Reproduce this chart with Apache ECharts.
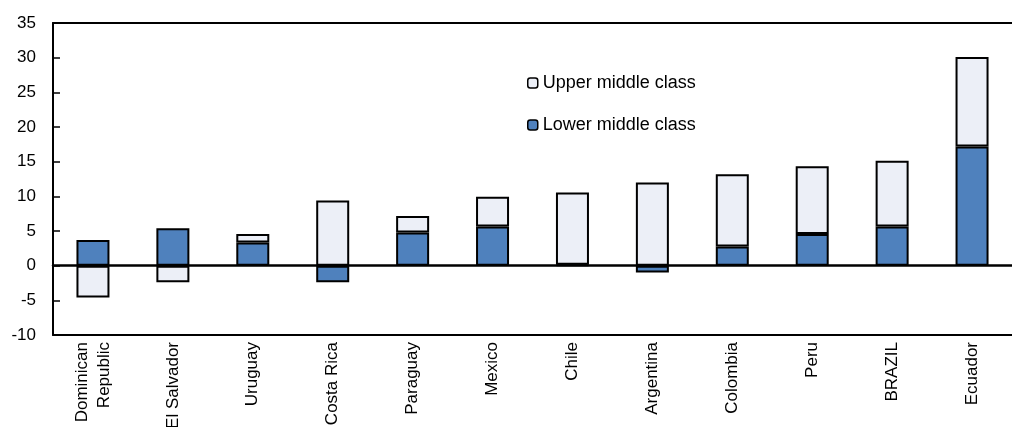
<!DOCTYPE html>
<html>
<head>
<meta charset="utf-8">
<script src="https://cdn.jsdelivr.net/npm/echarts@6/dist/echarts.min.js"></script>
<style>
  html, body { margin: 0; padding: 0; background: #fff; }
  #chart { width: 1012px; height: 427px; }
</style>
</head>
<body>
<div id="chart"></div>
<script>
let countries = ['Dominican\nRepublic', 'El Salvador', 'Uruguay', 'Costa Rica', 'Paraguay', 'Mexico',
    'Chile', 'Argentina', 'Colombia', 'Peru', 'BRAZIL', 'Ecuador'];
let lowerMiddle = [3.7, 5.4, 3.35, -2.4, 4.8, 5.65, 0.15, -1.0, 2.75, 4.55, 5.65, 17.2];
let upperMiddle = [-4.6, -2.4, 1.2, 9.4, 2.35, 4.3, 10.4, 12.0, 10.45, 9.8, 9.5, 12.9];

let blue = '#4F81BD';
let light = '#ECEFF7';
let font = '"Liberation Sans", Arial, sans-serif';

let chart = echarts.init(document.getElementById('chart'));

let lineOnly = {
    type: 'category',
    data: countries,
    axisLabel: { show: false },
    axisTick: { show: false },
    splitLine: { show: false }
};

let conf = {
    animation: false,
    grid: { left: 53, right: 0, top: 23, bottom: 92, outerBoundsMode: 'none', containLabel: false },
    legend: {
        orient: 'vertical',
        left: 522,
        top: 68,
        itemWidth: 10,
        itemHeight: 10,
        itemGap: 22,
        data: ['Upper middle class', 'Lower middle class'],
        itemStyle: { borderColor: '#000', borderWidth: 1.5 },
        textStyle: {
            fontFamily: font,
            fontSize: 18,
            lineHeight: 20,
            color: '#000'
        }
    },
    xAxis: [
        {
            type: 'category',
            data: countries,
            axisLine: { onZero: false, lineStyle: { color: '#000', width: 2 } },
            axisTick: { show: false },
            axisLabel: {
                rotate: 90,
                interval: 0,
                margin: 7,
                color: '#000',
                fontFamily: font,
                fontSize: 17,
                lineHeight: 22
            }
        },
        Object.assign({}, lineOnly, {
            position: 'top',
            axisLine: { onZero: false, lineStyle: { color: '#000', width: 2 } }
        }),
        Object.assign({}, lineOnly, {
            position: 'bottom',
            z: 5,
            axisLine: { onZero: true, lineStyle: { color: '#000', width: 2.5 } }
        })
    ],
    yAxis: {
        type: 'value',
        min: -10,
        max: 35,
        interval: 5,
        axisLine: { show: true, lineStyle: { color: '#000', width: 2 } },
        axisTick: { show: true, inside: true, length: 7, lineStyle: { color: '#000', width: 1.5 } },
        splitLine: { show: false },
        axisLabel: {
            margin: 17,
            color: '#000',
            fontFamily: font,
            fontSize: 17
        }
    },
    series: [
        {
            name: 'Lower middle class',
            type: 'bar',
            stack: 'total',
            barWidth: 33,
            data: lowerMiddle,
            itemStyle: { color: blue, borderColor: '#000', borderWidth: 2 }
        },
        {
            name: 'Upper middle class',
            type: 'bar',
            stack: 'total',
            barWidth: 33,
            data: upperMiddle,
            itemStyle: { color: light, borderColor: '#000', borderWidth: 2 }
        }
    ]
};

chart.setOption(conf);
</script>
</body>
</html>
